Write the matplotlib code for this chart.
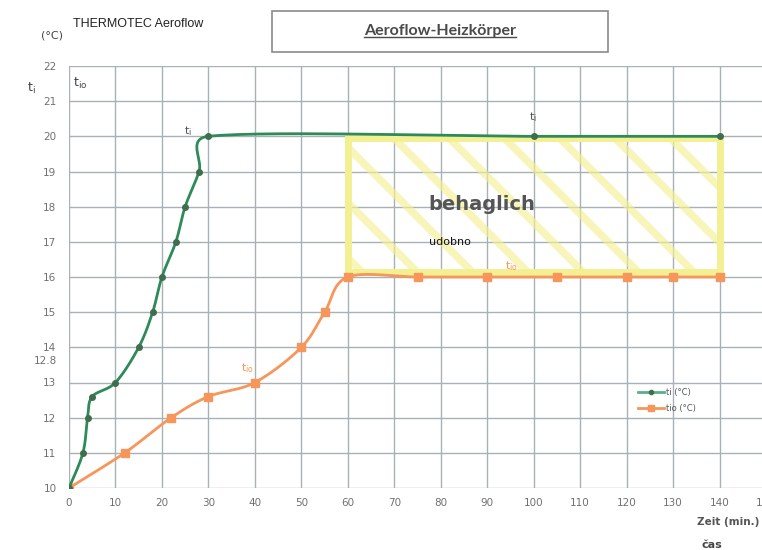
import numpy as np
import matplotlib
matplotlib.use("Agg")
import matplotlib.pyplot as plt
from matplotlib.patches import Rectangle
from matplotlib.lines import Line2D

# ---- data ----
ti_x = [0, 3, 4, 5, 10, 15, 18, 20, 23, 25, 28, 30, 100, 140]
ti_y = [10, 11, 12, 12.6, 13, 14, 15, 16, 17, 18, 19, 20, 20, 20]
tio_x = [0, 12, 22, 30, 40, 50, 55, 60, 75, 90, 105, 120, 130, 140]
tio_y = [10, 11, 12, 12.6, 13, 14, 15, 16, 16, 16, 16, 16, 16, 16]
x_ticks = list(range(0, 151, 10))
y_ticks = list(range(10, 23))
y_labels = ["10", "11", "12", "13", "14", "15", "16", "17", "18", "19", "20", "21", "22"]
comfort_x = [60, 140]
comfort_y = [16.15, 19.95]

W, H = 762, 550
fig = plt.figure(figsize=(W / 100, H / 100), dpi=100)
ax = fig.add_axes([69 / W, 1 - 488 / H, 697 / W, 422 / H])
ax.set_xlim(0, 150)
ax.set_ylim(10, 22)

sx, sy = 697 / 150, 422 / 12  # px per data unit (for smoothing in screen space)


def smooth(xs, ys, n=30):
    P = np.column_stack([np.array(xs, float) * sx, np.array(ys, float) * sy])
    out = [P[0]]
    for i in range(len(P) - 1):
        p0 = P[max(i - 1, 0)]
        p1 = P[i]
        p2 = P[i + 1]
        p3 = P[min(i + 2, len(P) - 1)]
        L = np.linalg.norm(p2 - p1)
        d1 = (p2 - p0) / 6
        d2 = (p3 - p1) / 6
        for d in (d1, d2):
            m = np.linalg.norm(d)
            if m > L * 0.6 and m > 0:
                d *= (L * 0.6) / m
        c1 = p1 + d1
        c2 = p2 - d2
        t = np.linspace(0, 1, n)[1:, None]
        b = ((1 - t) ** 3) * p1 + 3 * (1 - t) ** 2 * t * c1 + 3 * (1 - t) * t ** 2 * c2 + t ** 3 * p2
        out.extend(b)
    out = np.array(out)
    return out[:, 0] / sx, out[:, 1] / sy


# grid
ax.set_xticks(x_ticks)
ax.set_yticks(y_ticks)
ax.set_yticklabels(y_labels)
ax.grid(True, color="#a8b1b4", lw=1.0)
for s in ax.spines.values():
    s.set_visible(False)
ax.tick_params(length=0, labelsize=7.5, labelcolor="#707070")
ax.tick_params(axis="y", pad=9)
ax.tick_params(axis="x", pad=7)

# comfort zone
yellow = "#f3f094"
rect = Rectangle((comfort_x[0], comfort_y[0]), comfort_x[1] - comfort_x[0],
                 comfort_y[1] - comfort_y[0], fill=False, edgecolor=yellow, lw=5, zorder=2)
ax.add_patch(rect)
clip = Rectangle((comfort_x[0], comfort_y[0]), comfort_x[1] - comfort_x[0],
                 comfort_y[1] - comfort_y[0], transform=ax.transData)
slope = sx / sy
for x0 in np.arange(70.5 - 12 * 6, 140, 11.9):
    xs_ = np.array([x0, x0 + 60])
    ys_ = comfort_y[1] - (xs_ - x0) * slope
    ln, = ax.plot(xs_, ys_, color=yellow, lw=5.5, alpha=0.65, zorder=2, solid_capstyle="butt")
    ln.set_clip_path(clip)

green = "#2e8a58"
orange = "#f7965a"
gx, gy = smooth(ti_x, ti_y)
ox, oy = smooth(tio_x, tio_y)
ax.plot(ox, oy, color=orange, lw=2, zorder=3)
ax.plot(tio_x, tio_y, ls="none", marker="s", ms=6, color=orange, zorder=4)
ax.plot(gx, gy, color=green, lw=2, zorder=5)
ax.plot(ti_x, ti_y, ls="none", marker="o", ms=4, color="#3f6e4e", zorder=6)

# legend
h1 = Line2D([], [], color="#5bb08a", lw=2, marker="o", ms=3, markerfacecolor="#3f6e4e", markeredgecolor="#3f6e4e")
h2 = Line2D([], [], color=orange, lw=2, marker="s", ms=4)
ax.legend([h1, h2], ["ti (°C)", "tio (°C)"], loc="upper left", bbox_to_anchor=(0.805, 0.255),
          frameon=False, fontsize=6, handlelength=3.2, labelspacing=0.9, handletextpad=0.2,
          labelcolor="#555555")

# annotations in plot
ann = dict(color="#555555", fontsize=8, ha="center", va="center", zorder=7)
ax.text(25.6, 20.15, "$\\mathregular{t_i}$", **ann)
ax.text(99.8, 20.55, "$\\mathregular{t_i}$", **ann)
ax.text(95.3, 16.3, "$\\mathregular{t_{io}}$", color=orange, fontsize=8, ha="center", va="center", zorder=7)
ax.text(38.3, 13.42, "$\\mathregular{t_{io}}$", color=orange, fontsize=8, ha="center", va="center", zorder=7)
ax.text(88.8, 18.05, "behaglich", color="#555555", fontsize=14, fontweight="bold", ha="center", va="center", zorder=7)
ax.text(82.0, 17.0, "udobno", color="#111111", fontsize=8, ha="center", va="center", zorder=7)
ax.text(2.3, 21.5, "$\\mathregular{t_{io}}$", color="#444444", fontsize=9, ha="center", va="center")
ax.text(-0.017, 13.62, "12.8", transform=ax.get_yaxis_transform(), ha="right", va="center",
        fontsize=7.5, color="#707070")

# figure texts
fig.text(73 / W, 1 - 24 / H, "THERMOTEC Aeroflow", fontsize=9, ha="left", va="center",
         color="#222222", family="Liberation Sans", stretch="condensed")
fig.text(52 / W, 1 - 35 / H, "(°C)", fontsize=8, ha="center", va="center", color="#444444")
fig.text(31 / W, 1 - 88 / H, "$\\mathregular{t_i}$", fontsize=9, ha="center", va="center", color="#444444")
fig.text(759 / W, 1 - 522 / H, "Zeit (min.)", fontsize=7.5, fontweight="bold", ha="right", va="center", color="#555555")
fig.text(712 / W, 1 - 545 / H, "čas", fontsize=8, fontweight="bold", ha="center", va="center", color="#444444")

box = Rectangle((272 / W, 1 - 52 / H), 336 / W, 41 / H, transform=fig.transFigure,
                fill=False, edgecolor="#8a8a8a", lw=1.2)
fig.add_artist(box)
tt = fig.text(440 / W, 1 - 31 / H, "Aeroflow-Heizkörper", fontsize=11.5, fontweight="bold",
              ha="center", va="center", color="#4a4a4a", family="Lato")
fig.canvas.draw()
bb = tt.get_window_extent().transformed(fig.transFigure.inverted())
fig.add_artist(Line2D([bb.x0, bb.x1], [bb.y0 + 0.002, bb.y0 + 0.002], transform=fig.transFigure,
                      color="#4a4a4a", lw=1))

fig.savefig("out.png", dpi=100)
